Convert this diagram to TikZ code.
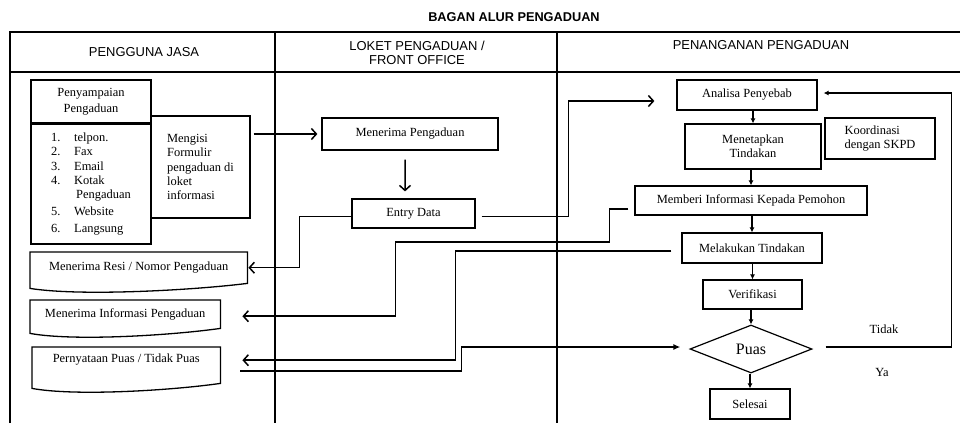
\documentclass[tikz,border=0pt]{standalone}
\usepackage{fontspec}
\setmainfont{Liberation Serif}
\newfontfamily\headfont{Liberation Sans}
\usepackage{tikz}
\usetikzlibrary{calc}
\usetikzlibrary{shapes.geometric}
\usetikzlibrary{arrows.meta}
\newcommand{\itemno}[1]{\makebox[23bp][l]{#1}}
\tikzset{
  every node/.style={font=\fontsize{12.5}{14.5}\selectfont},
  box/.style={draw, line width=1.2bp, inner sep=2bp, align=center},
  doc/.style={inner sep=2bp, anchor=north west},
  lane/.style={line width=1.3bp},
  head/.style={font=\headfont\fontsize{13}{14.5}\selectfont, align=center},
  conn/.style={line width=1.5bp, -{Straight Barb[length=5bp,width=11bp,line width=1.5bp]}},
  flow/.style={line width=1.2bp, -{Latex[length=5bp,width=5bp]}},
}
\begin{document}
\begin{tikzpicture}[x=1bp,y=-1bp]
\useasboundingbox (0,0) rectangle (960,423);
% lanes
\node (title) at (514,17) [font=\headfont\bfseries\fontsize{12.8}{14}\selectfont] {BAGAN ALUR PENGADUAN};
\draw[lane] (10,423) -- (10,32) -- (960,32);
\draw[lane] (10,72) -- (960,72);
\foreach \x in {275,557} \draw[lane] (\x,32) -- (\x,423);
\node (hpengguna) at (144,52) [head] {PENGGUNA JASA};
\node (hloket) at (417,53) [head] {LOKET PENGADUAN /\\FRONT OFFICE};
\node (hpenanganan) at (761,45) [head] {PENANGANAN PENGADUAN};
% pengguna jasa
\node (sampai) at (91,101.5) [box, minimum width=120bp, minimum height=43bp] {Penyampaian\\[2bp]Pengaduan};
\node (list) at (91,184) [box, minimum width=120bp, minimum height=120bp, align=left] {\itemno{1.}telpon.\\ \itemno{2.}Fax\\ \itemno{3.}Email\\ \itemno{4.}Kotak\\ \hspace*{25bp}Pengaduan\\[2bp] \itemno{5.}Website\\[3bp] \itemno{6.}Langsung};
\node (mengisi) at (200.5,167) [box, minimum width=99bp, minimum height=102bp, align=left] {Mengisi\\Formulir\\pengaduan di\\loket\\informasi};
\node (resi) at (30,252) [doc, minimum width=217bp, minimum height=31bp] {Menerima Resi / Nomor Pengaduan};
\node (info) at (30,300) [doc, minimum width=190bp, minimum height=28bp] {Menerima Informasi Pengaduan};
\node (puas) at (32,347) [doc, minimum width=188bp, minimum height=24bp] {Pernyataan Puas / Tidak Puas};
\foreach \d/\ex in {resi/0, info/0, puas/12}
  \draw[lane] (\d.north west) -- (\d.north east) -- ($(\d.south east)+(0,\ex)$)
    .. controls ($(\d.south east)!0.26!(\d.south west)+(0,\ex+7)$) and ($(\d.south east)!0.77!(\d.south west)+(0,\ex+13)$)
    .. ($(\d.south west)+(0,\ex+5)$) -- cycle;
% loket
\node (terima) at (410,134) [box, minimum width=176bp, minimum height=32bp] {Menerima Pengaduan};
\node (entry) at (413.5,213.5) [box, minimum width=123bp, minimum height=29bp] {Entry Data};
% penanganan
\node (analisa) at (747,95) [box, minimum width=140bp, minimum height=30bp] {Analisa Penyebab};
\node (menetapkan) at (753,146.5) [box, minimum width=136bp, minimum height=45bp] {Menetapkan\\Tindakan};
\node (koordinasi) at (880,138.5) [box, minimum width=110bp, minimum height=41bp, align=left] {Koordinasi\\dengan SKPD};
\node (memberi) at (751,200.5) [box, minimum width=232bp, minimum height=29bp] {Memberi Informasi Kepada Pemohon};
\node (melakukan) at (752,248) [box, minimum width=140bp, minimum height=30bp] {Melakukan Tindakan};
\node (verifikasi) at (752.5,294.5) [box, minimum width=99bp, minimum height=29bp] {Verifikasi};
\node (puasd) at (751,349) [diamond, draw, line width=1.2bp, inner sep=0pt, aspect=2.5, minimum width=122bp, minimum height=48bp, font=\fontsize{16}{18}\selectfont] {Puas};
\node (selesai) at (750,404) [box, minimum width=80bp, minimum height=30bp] {Selesai};
\node (tidak) at (884,329) {Tidak};
\node (ya) at (882,372) {Ya};
\foreach \a/\b in {analisa/menetapkan, menetapkan/memberi, memberi/melakukan, melakukan/verifikasi, verifikasi/puasd, puasd/selesai}
  \draw[flow] (\a.south -| \b.north) -- (\b.north);
% connectors
\draw[conn] ([xshift=3bp]mengisi.east |- terima.west) -- ([xshift=-4bp]terima.west);
\draw[conn] ([xshift=-5bp,yshift=-9bp]terima.south) -- ([xshift=-8.5bp,yshift=7bp]entry.north);
\draw[conn] ([xshift=6bp,yshift=-3bp]entry.east) -- ++(87,0) |- ([xshift=-22bp,yshift=-6bp]analisa.west);
\draw[conn] ([yshift=-3bp]entry.west) -- ++(-52,0) |- ([xshift=1bp]resi.east);
\draw[conn] ([xshift=-6bp,yshift=-8.5bp]memberi.west) -- ++(-19,0) -- ++(0,33) -- ++(-214,0) |- ([xshift=22bp,yshift=-2bp]info.east);
\draw[conn] ([xshift=-10bp,yshift=-3bp]melakukan.west) -- ++(-216,0) |- ([xshift=22bp,yshift=-1bp]puas.east);
\draw[line width=1.5bp, -{Latex[length=7bp,width=6bp]}] ([xshift=20bp,yshift=-12bp]puas.east) -- ++(221,0) |- ([xshift=-9bp,yshift=2bp]puasd.west);
\draw[flow] ([xshift=13bp,yshift=2bp]puasd.east) -- ++(126,0) |- ([xshift=6bp,yshift=2bp]analisa.east);
\end{tikzpicture}
\end{document}
